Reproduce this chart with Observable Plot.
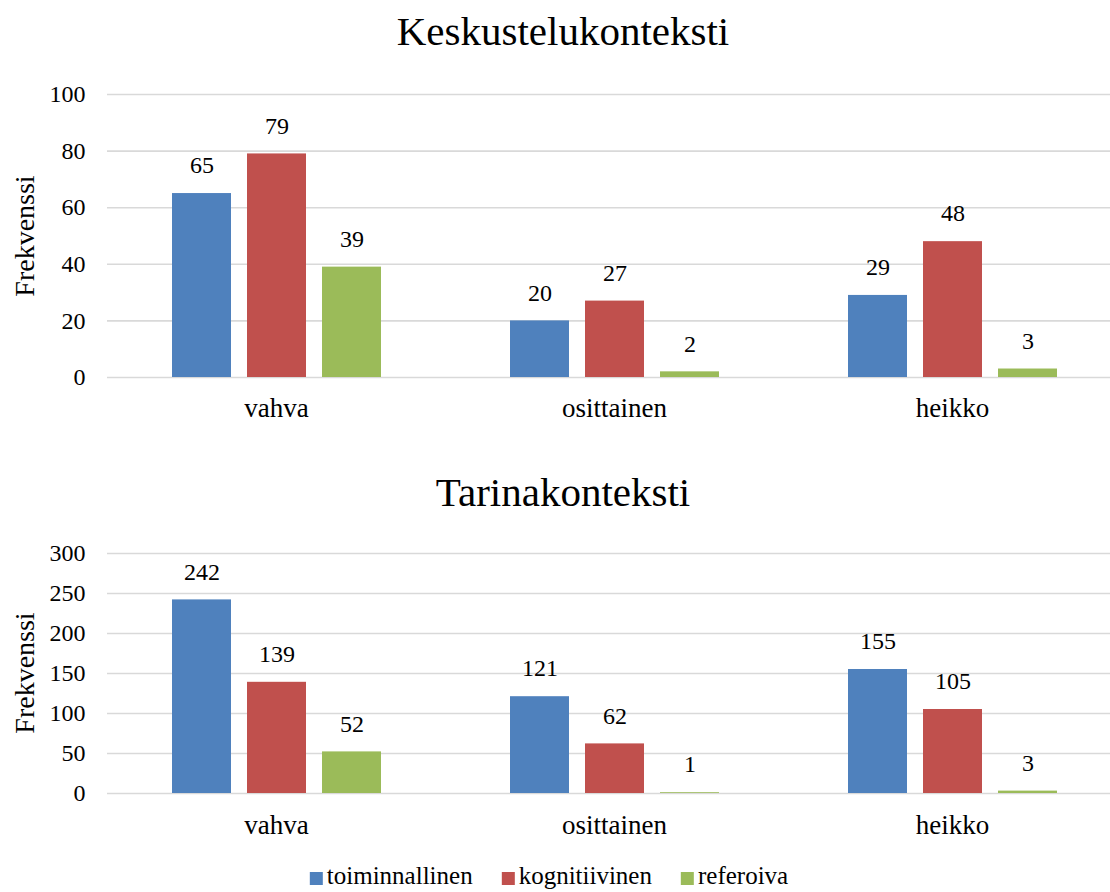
<!DOCTYPE html>
<html><head><meta charset="utf-8">
<script src="https://cdn.jsdelivr.net/npm/d3@7"></script>
<script src="https://cdn.jsdelivr.net/npm/@observablehq/plot@0.6"></script>
<style>
body{margin:0;background:#fff;font-family:"Liberation Serif",serif;color:#000}
#root{position:relative;width:1110px;height:892px;overflow:hidden}
#root svg{position:absolute;left:0;font-family:"Liberation Serif",serif !important}
#root svg text{font-family:"Liberation Serif",serif !important}
.title{position:absolute;left:0;width:1126px;text-align:center;font-size:41px;line-height:41px;z-index:2}
.ylab{position:absolute;width:200px;text-align:center;font-size:28px;line-height:28px;transform:translate(-50%,-50%) rotate(-90deg);z-index:2}
#legend{position:absolute;top:862px;left:549px;transform:translateX(-50%);display:flex;align-items:center;white-space:nowrap;font-size:25px;line-height:28px;z-index:2}
#legend .item{display:flex;align-items:center;margin-right:29px}
#legend .item:last-child{margin-right:0}
#legend .sw{width:13px;height:13px;margin-right:4px;margin-top:4px}
</style>
</head><body>
<div id="root"></div>
<script>
const categories = ["vahva", "osittainen", "heikko"];
const series = ["toiminnallinen", "kognitiivinen", "referoiva"];
const colors = ["#4F81BD", "#C0504D", "#9BBB59"];
// rows = categories, columns = series
const keskusteluValues = [[65, 79, 39], [20, 27, 2], [29, 48, 3]];
const tarinaValues = [[242, 139, 52], [121, 62, 1], [155, 105, 3]];
const keskusteluTicks = [0, 20, 40, 60, 80, 100];
const tarinaTicks = [0, 50, 100, 150, 200, 250, 300];
const titles = ["Keskustelukonteksti", "Tarinakonteksti"];
const yLabel = "Frekvenssi";
const FONT = "Liberation Serif";

function makeChart(values, ticks, o) {
  const data = [];
  categories.forEach((c, i) => series.forEach((s, j) => data.push({category: c, series: s, value: values[i][j]})));
  const svg = Plot.plot({
    width: 1110, height: o.height,
    marginLeft: 107, marginRight: 0, marginTop: o.mt, marginBottom: o.mb,
    style: {fontFamily: FONT, background: "transparent", color: "#000", overflow: "visible"},
    fx: {domain: categories, range: [107, 1121], padding: 0, label: null},
    x: {domain: series, paddingInner: 16 / 75, paddingOuter: 0.86, axis: null},
    y: {domain: [0, ticks[ticks.length - 1]], axis: null},
    color: {domain: series, range: colors},
    marks: [
      Plot.gridY(ticks, {stroke: "#d9d9d9", strokeOpacity: 1, strokeWidth: 1.6}),
      Plot.barY(data, {fx: "category", x: "series", y: "value", fill: "series"}),
      Plot.text(data, {fx: "category", x: "series", y: "value", text: d => String(d.value), dy: -28, fontSize: 24, fontFamily: FONT, fill: "#000"}),
      Plot.axisY(ticks, {tickSize: 0, tickPadding: 22, fontSize: 24, fontFamily: FONT, label: null}),
      Plot.axisFx({anchor: "bottom", tickSize: 0, tickPadding: o.fxPad, fontSize: 27, fontFamily: FONT, label: null})
    ]
  });
  svg.style.top = o.top + "px";
  return svg;
}

const root = document.getElementById("root");
root.appendChild(makeChart(keskusteluValues, keskusteluTicks, {top: 0, height: 440, mt: 94, mb: 63, fxPad: 20}));
root.appendChild(makeChart(tarinaValues, tarinaTicks, {top: 460, height: 392, mt: 93, mb: 59, fxPad: 21}));

const t1 = document.createElement("div"); t1.className = "title"; t1.style.top = "11px"; t1.textContent = titles[0]; root.appendChild(t1);
const t2 = document.createElement("div"); t2.className = "title"; t2.style.top = "472px"; t2.textContent = titles[1]; root.appendChild(t2);

[[25, 236], [25, 673]].forEach(([x, y]) => {
  const d = document.createElement("div"); d.className = "ylab";
  d.style.left = x + "px"; d.style.top = y + "px"; d.textContent = yLabel; root.appendChild(d);
});

const leg = document.createElement("div"); leg.id = "legend";
series.forEach((s, i) => {
  const it = document.createElement("div"); it.className = "item";
  const sw = document.createElement("div"); sw.className = "sw"; sw.style.background = colors[i];
  const tx = document.createElement("span"); tx.textContent = s;
  it.appendChild(sw); it.appendChild(tx); leg.appendChild(it);
});
root.appendChild(leg);
</script>
</body></html>
